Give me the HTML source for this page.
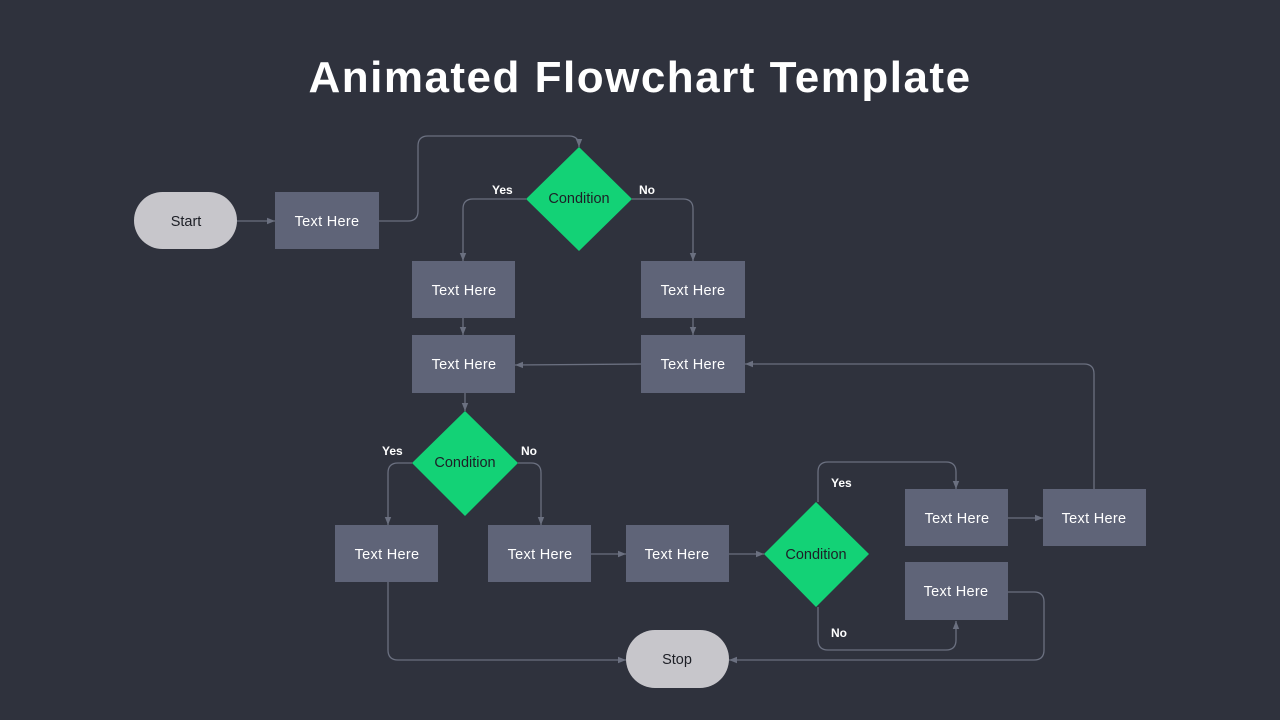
<!DOCTYPE html>
<html><head><meta charset="utf-8"><style>
html,body{margin:0;padding:0;background:#2f323d;}
svg{display:block}
text{font-family:"Liberation Sans",sans-serif;}
</style></head><body>
<svg width="1280" height="720" viewBox="0 0 1280 720" xmlns="http://www.w3.org/2000/svg">
<defs>
<marker id="a" viewBox="0 0 10 10" refX="10" refY="5" markerWidth="8" markerHeight="8" orient="auto-start-reverse" markerUnits="userSpaceOnUse">
<path d="M0,1 L10,5 L0,9 z" fill="#6b7080"/></marker>
</defs>
<rect width="1280" height="720" fill="#2f323d"/>
<text x="640" y="92" text-anchor="middle" font-size="44" font-weight="bold" letter-spacing="1.5" fill="#fff">Animated Flowchart Template</text>
<g fill="none" stroke="#6b7080" stroke-width="1.3">
<path d="M237 221 H275" marker-end="url(#a)"/>
<path d="M379 221 H408 Q418 221 418 211 V146 Q418 136 428 136 H569 Q579 136 579 146 V147" marker-end="url(#a)"/>
<path d="M526 199 H473 Q463 199 463 209 V261" marker-end="url(#a)"/>
<path d="M632 199 H683 Q693 199 693 209 V261" marker-end="url(#a)"/>
<path d="M463 318 V335" marker-end="url(#a)"/>
<path d="M693 318 V335" marker-end="url(#a)"/>
<path d="M641 364 L515 365" marker-end="url(#a)"/>
<path d="M1094 489 V374 Q1094 364 1084 364 H745" marker-end="url(#a)"/>
<path d="M465 393 V411" marker-end="url(#a)"/>
<path d="M412 463 H398 Q388 463 388 473 V525" marker-end="url(#a)"/>
<path d="M518 463 H531 Q541 463 541 473 V525" marker-end="url(#a)"/>
<path d="M591 554 H626" marker-end="url(#a)"/>
<path d="M729 554 H764" marker-end="url(#a)"/>
<path d="M818 502 V472 Q818 462 828 462 H946 Q956 462 956 472 V489" marker-end="url(#a)"/>
<path d="M818 607 V640 Q818 650 828 650 H946 Q956 650 956 640 V621" marker-end="url(#a)"/>
<path d="M1008 518 H1043" marker-end="url(#a)"/>
<path d="M1008 592 H1034 Q1044 592 1044 602 V650 Q1044 660 1034 660 H729" marker-end="url(#a)"/>
<path d="M388 582 V650 Q388 660 398 660 H626" marker-end="url(#a)"/>
</g>
<g fill="#5f6478">
<rect x="275" y="192" width="104" height="57"/>
<rect x="412" y="261" width="103" height="57"/>
<rect x="641" y="261" width="104" height="57"/>
<rect x="412" y="335" width="103" height="58"/>
<rect x="641" y="335" width="104" height="58"/>
<rect x="335" y="525" width="103" height="57"/>
<rect x="488" y="525" width="103" height="57"/>
<rect x="626" y="525" width="103" height="57"/>
<rect x="905" y="489" width="103" height="57"/>
<rect x="1043" y="489" width="103" height="57"/>
<rect x="905" y="562" width="103" height="58"/>
</g>
<rect x="134" y="192" width="103" height="57" rx="28.5" fill="#c7c6cb"/>
<rect x="626" y="630" width="103" height="58" rx="29" fill="#c7c6cb"/>
<g fill="#13d276">
<polygon points="579,147 632,199 579,251 526,199"/>
<polygon points="465,411 518,463 465,516 412,463"/>
<polygon points="816,502 869,554 816,607 764,554"/>
</g>
<g font-size="14.5" text-anchor="middle" fill="#fff" letter-spacing="0.3">
<text x="327" y="226">Text Here</text>
<text x="464" y="295">Text Here</text>
<text x="693" y="295">Text Here</text>
<text x="464" y="369">Text Here</text>
<text x="693" y="369">Text Here</text>
<text x="387" y="559">Text Here</text>
<text x="540" y="559">Text Here</text>
<text x="677" y="559">Text Here</text>
<text x="957" y="523">Text Here</text>
<text x="1094" y="523">Text Here</text>
<text x="956" y="596">Text Here</text>
</g>
<g font-size="14.5" text-anchor="middle" fill="#1d1f26">
<text x="186" y="226">Start</text>
<text x="677" y="664">Stop</text>
<text x="579" y="203">Condition</text>
<text x="465" y="467">Condition</text>
<text x="816" y="559">Condition</text>
</g>
<g font-size="12" font-weight="bold" fill="#fff">
<text x="492" y="194">Yes</text>
<text x="639" y="194">No</text>
<text x="382" y="455">Yes</text>
<text x="521" y="455">No</text>
<text x="831" y="487">Yes</text>
<text x="831" y="637">No</text>
</g>
</svg>
</body></html>
